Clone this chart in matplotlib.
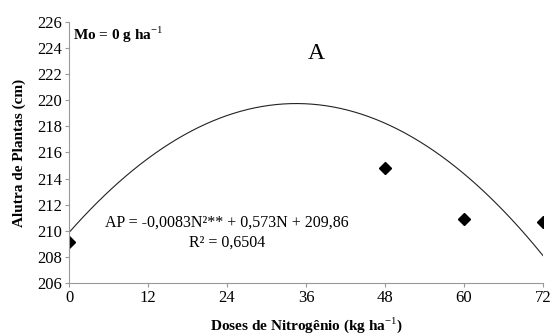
import numpy as np
import matplotlib.pyplot as plt

# nitrogen doses and observed plant height
doses = [0, 48, 60, 72]
altura = [209.1, 214.8, 210.9, 210.7]

# fitted quadratic coefficients (AP = a*N^2 + b*N + c)
coef_a = -0.0083
coef_b = 0.573
coef_c = 209.86

xticks = [0, 12, 24, 36, 48, 60, 72]
yticks = list(range(206, 227, 2))

plt.rcParams["font.family"] = ["Liberation Serif", "DejaVu Serif"]
plt.rcParams["mathtext.fontset"] = "custom"
plt.rcParams["mathtext.rm"] = "Liberation Serif"
plt.rcParams["mathtext.bf"] = "Liberation Serif:bold"

fig = plt.figure(figsize=(5.53, 3.36), dpi=100)
ax = fig.add_axes([0.1248, 0.158, 0.8572, 0.7765])

N = np.linspace(0, 72, 200)
ax.plot(N, coef_a * N**2 + coef_b * N + coef_c, color="#222222", lw=0.8)
ax.plot(doses, altura, ls="none", marker="D", color="black", markersize=6.5)

ax.set_xlim(0, 72)
ax.set_ylim(206, 226)
ax.set_xticks(xticks)
ax.set_yticks(yticks)
ax.tick_params(labelsize=12, length=3, color="#999999", width=0.8, pad=2)
for s in ["top", "right"]:
    ax.spines[s].set_visible(False)
for s in ["left", "bottom"]:
    ax.spines[s].set_color("#999999")
    ax.spines[s].set_linewidth(0.8)

ax.set_xlabel("Doses de Nitrogênio (kg ha$^{-1}$)", fontsize=11, fontweight="bold", labelpad=7)
ax.set_ylabel("Alutra de Plantas (cm)", fontsize=11, fontweight="bold", labelpad=8)

ax.text(24, 210.6, "AP = -0,0083N²** + 0,573N + 209,86", fontsize=11.5, ha="center", va="center")
ax.text(24, 209.1, "R² = 0,6504", fontsize=11.5, ha="center", va="center")
ax.text(0.6, 225.0, "Mo = 0 g ha$^{-1}$", fontsize=11, fontweight="bold", ha="left", va="center")
ax.text(37.5, 223.6, "A", fontsize=17, ha="center", va="center")

fig.savefig("out.png", dpi=100)
